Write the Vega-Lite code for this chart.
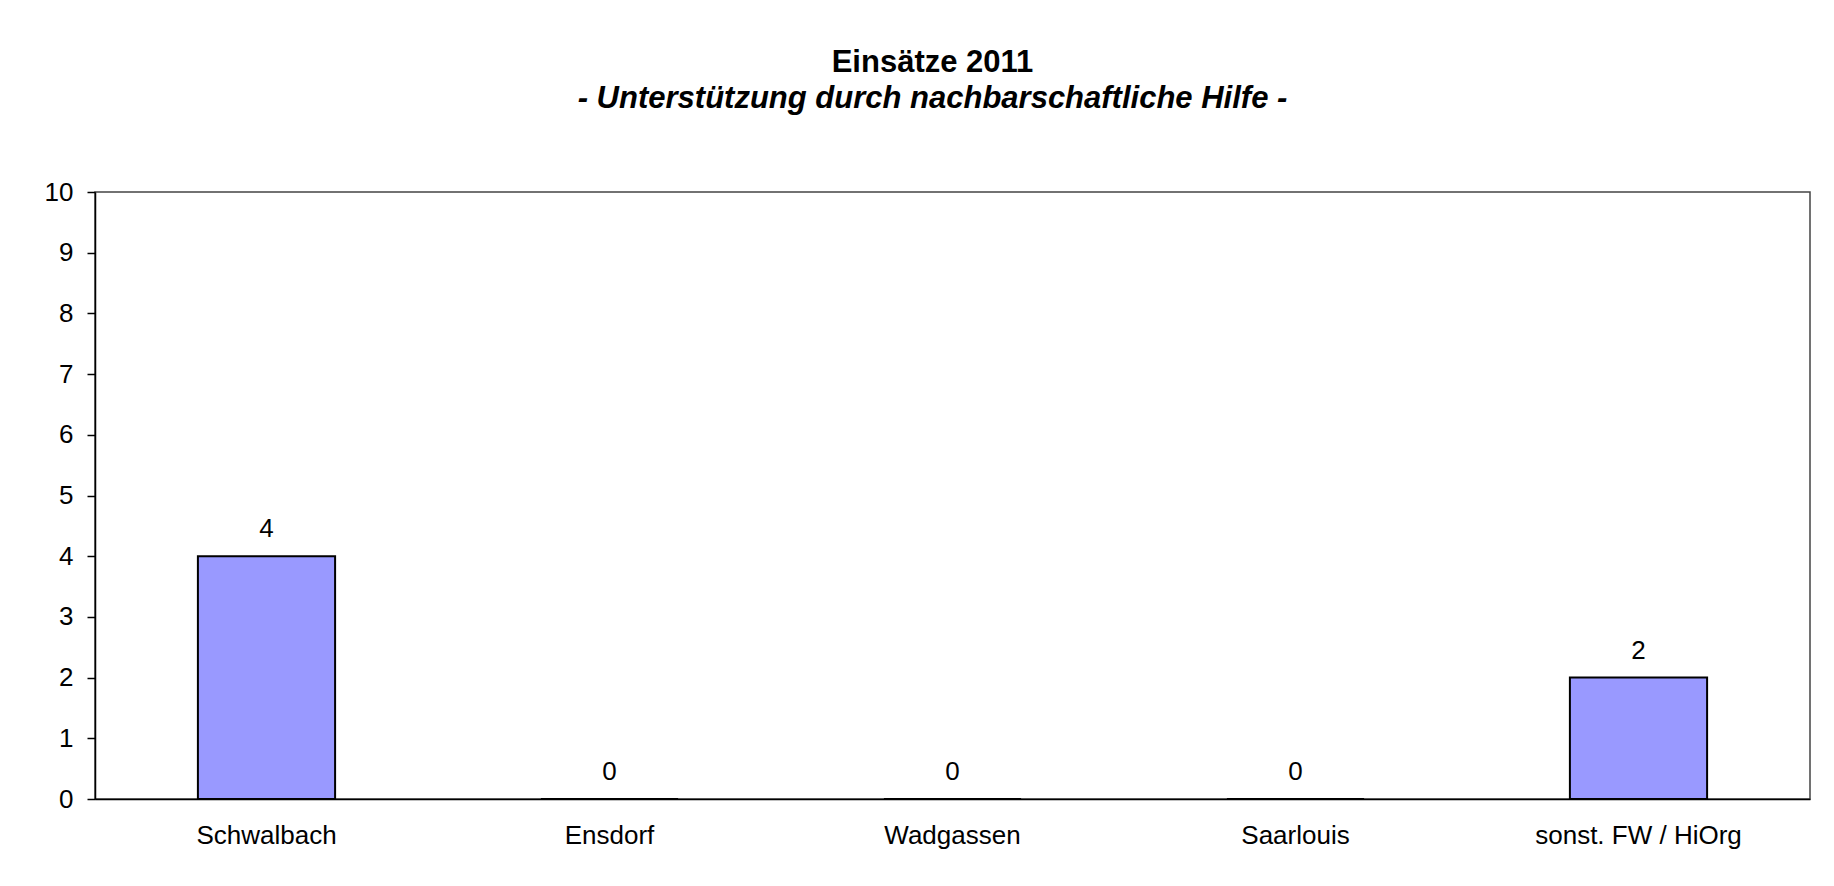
{
  "$schema": "https://vega.github.io/schema/vega-lite/v6.json",
  "width": 1715,
  "height": 607,
  "autosize": {"type": "none"},
  "padding": {"left": 95, "top": 192, "right": 24, "bottom": 87},
  "background": "white",
  "title": {
    "text": "Einsätze 2011",
    "subtitle": "- Unterstützung durch nachbarschaftliche Hilfe -\u00a0\u00a0",
    "font": "Liberation Sans",
    "fontSize": 31,
    "fontWeight": "bold",
    "color": "black",
    "subtitleFont": "Liberation Sans",
    "subtitleFontSize": 31,
    "subtitleFontWeight": "bold",
    "subtitleFontStyle": "italic",
    "subtitleColor": "black",
    "subtitlePadding": 5,
    "anchor": "middle",
    "offset": 64,
    "dx": -20
  },
  "data": {
    "values": [
      {"ort": "Schwalbach", "anzahl": 4},
      {"ort": "Ensdorf", "anzahl": 0},
      {"ort": "Wadgassen", "anzahl": 0},
      {"ort": "Saarlouis", "anzahl": 0},
      {"ort": "sonst. FW / HiOrg", "anzahl": 2}
    ]
  },
  "encoding": {
    "x": {
      "field": "ort",
      "type": "nominal",
      "sort": null,
      "scale": {"paddingInner": 0.6, "paddingOuter": 0.3},
      "axis": {
        "title": null,
        "labelAngle": 0,
        "ticks": false,
        "labelPadding": 23,
        "labelLimit": 0,
        "labelFont": "Liberation Sans",
        "labelFontSize": 26,
        "labelColor": "black",
        "domainColor": "black",
        "domainWidth": 1.5,
        "grid": false
      }
    },
    "y": {
      "field": "anzahl",
      "type": "quantitative",
      "scale": {"domain": [0, 10], "nice": false},
      "axis": {
        "title": null,
        "values": [0, 1, 2, 3, 4, 5, 6, 7, 8, 9, 10],
        "tickSize": 8,
        "tickColor": "black",
        "tickWidth": 1.5,
        "labelPadding": 14,
        "labelFont": "Liberation Sans",
        "labelFontSize": 26,
        "labelColor": "black",
        "domainColor": "black",
        "domainWidth": 1.5,
        "grid": false
      }
    }
  },
  "layer": [
    {"mark": {"type": "bar", "fill": "#9999FF", "stroke": "black", "strokeWidth": 2}},
    {
      "mark": {"type": "text", "dy": -19, "baseline": "alphabetic", "align": "center", "fontSize": 26, "font": "Liberation Sans", "color": "black"},
      "encoding": {"text": {"field": "anzahl", "type": "quantitative"}}
    }
  ],
  "config": {
    "view": {"stroke": "#444444", "strokeWidth": 1.5}
  }
}
